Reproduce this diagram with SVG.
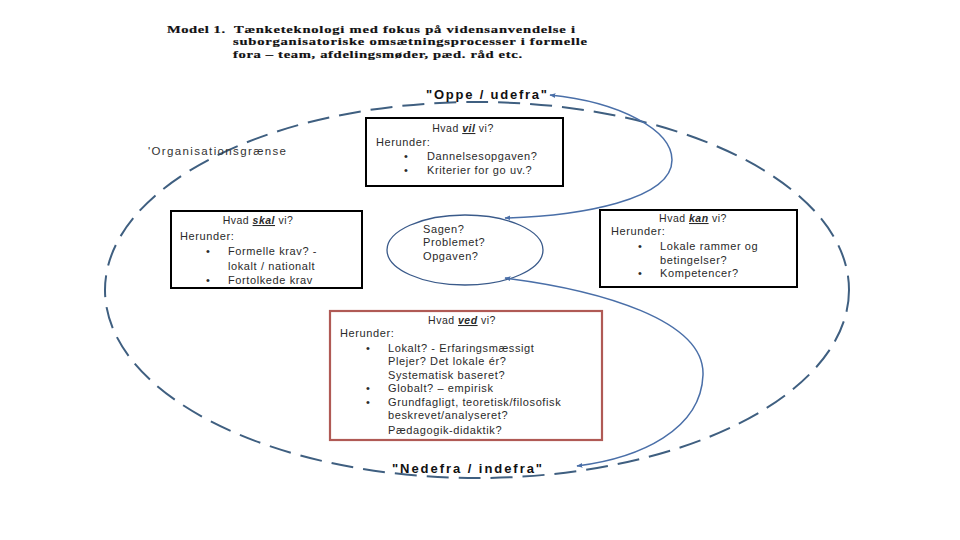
<svg xmlns="http://www.w3.org/2000/svg" width="960" height="540" viewBox="0 0 960 540">
<defs>
<style>
.title{font-family:"Liberation Serif","Times New Roman",serif;font-weight:bold;font-size:10.8px;fill:#111;stroke:#111;stroke-width:0.2px}
.t{font-family:"Liberation Sans",Arial,sans-serif;font-size:11px;fill:#2a2a2a;letter-spacing:0.6px}
.h{font-family:"Liberation Sans",Arial,sans-serif;font-size:10.5px;fill:#2a2a2a;letter-spacing:0.5px}
.em{font-style:italic;font-weight:bold;text-decoration:underline}
.lab{font-family:"Liberation Sans",Arial,sans-serif;font-size:13px;font-weight:bold;fill:#111;letter-spacing:1px}
.org{font-family:"Liberation Sans",Arial,sans-serif;font-size:11.5px;fill:#333}
.box{fill:#fff;stroke:#000;stroke-width:2}
.boxr{fill:#fff;stroke:#b05a55;stroke-width:2.2}
.conn{fill:none;stroke:#4a6fa8;stroke-width:1.5}
</style>
<marker id="ah" viewBox="0 0 10 10" refX="9" refY="5" markerWidth="6" markerHeight="6" markerUnits="userSpaceOnUse" orient="auto-start-reverse">
<path d="M0,1 L10,5 L0,9 z" fill="#4a6fa8"/>
</marker>
</defs>
<rect width="960" height="540" fill="#fff"/>

<g id="title" transform="scale(1.35,1)">
<text class="title" x="123.7" y="33" textLength="43" lengthAdjust="spacing">Model 1.</text>
<text class="title" x="173.3" y="33" textLength="252.6" lengthAdjust="spacing">Tænketeknologi med fokus på vidensanvendelse i</text>
<text class="title" x="172.6" y="45.5" textLength="262.2" lengthAdjust="spacing">suborganisatoriske omsætningsprocesser i formelle</text>
<text class="title" x="172.6" y="58" textLength="214.1" lengthAdjust="spacing">fora – team, afdelingsmøder, pæd. råd etc.</text>
</g>

<g id="organisationsgraense">
<ellipse cx="477" cy="290" rx="372" ry="188" fill="none" stroke="#3f5f80" stroke-width="2" stroke-dasharray="22 10"/>
<text class="org" x="148" y="155" textLength="138" lengthAdjust="spacing">'Organisationsgrænse</text>
</g>

<g id="label-oppe">
<text class="lab" x="426" y="99" textLength="122" lengthAdjust="spacing">"Oppe / udefra"</text>
</g>
<g id="label-nedefra">
<text class="lab" x="392" y="473" textLength="151" lengthAdjust="spacing">"Nedefra / indefra"</text>
</g>

<g id="node-vil">
<rect class="box" x="366" y="118" width="197" height="68"/>
<text class="h" x="463" y="132" text-anchor="middle">Hvad <tspan class="em">vil</tspan> vi?</text>
<text class="t" x="376" y="146">Herunder:</text>
<text class="t" x="404" y="160">•</text>
<text class="t" x="427" y="160">Dannelsesopgaven?</text>
<text class="t" x="404" y="174">•</text>
<text class="t" x="427" y="174">Kriterier for go uv.?</text>
</g>

<g id="node-skal">
<rect class="box" x="171" y="211" width="191" height="77"/>
<text class="h" x="258" y="224" text-anchor="middle">Hvad <tspan class="em">skal</tspan> vi?</text>
<text class="t" x="180" y="240">Herunder:</text>
<text class="t" x="206" y="255">•</text>
<text class="t" x="228" y="255">Formelle krav? -</text>
<text class="t" x="228" y="270">lokalt / nationalt</text>
<text class="t" x="206" y="284">•</text>
<text class="t" x="228" y="284">Fortolkede krav</text>
</g>

<g id="node-kan">
<rect class="box" x="600" y="210" width="197" height="77"/>
<text class="h" x="693" y="222" text-anchor="middle">Hvad <tspan class="em">kan</tspan> vi?</text>
<text class="t" x="611" y="235">Herunder:</text>
<text class="t" x="638" y="250">•</text>
<text class="t" x="660" y="250">Lokale rammer og</text>
<text class="t" x="660" y="264">betingelser?</text>
<text class="t" x="638" y="277">•</text>
<text class="t" x="660" y="277">Kompetencer?</text>
</g>

<g id="node-sagen">
<ellipse cx="465" cy="250" rx="78" ry="35" fill="none" stroke="#3a5a8a" stroke-width="1.3"/>
<text class="t" x="423" y="233">Sagen?</text>
<text class="t" x="423" y="246">Problemet?</text>
<text class="t" x="423" y="260">Opgaven?</text>
</g>

<g id="node-ved">
<rect class="boxr" x="330" y="311" width="272" height="129"/>
<text class="h" x="462" y="324" text-anchor="middle">Hvad  <tspan class="em">ved</tspan> vi?</text>
<text class="t" x="340" y="337">Herunder:</text>
<text class="t" x="366" y="352">•</text>
<text class="t" x="388" y="352">Lokalt?  - Erfaringsmæssigt</text>
<text class="t" x="388" y="365">Plejer? Det lokale ér?</text>
<text class="t" x="388" y="379">Systematisk baseret?</text>
<text class="t" x="366" y="392">•</text>
<text class="t" x="388" y="392">Globalt? – empirisk</text>
<text class="t" x="366" y="406">•</text>
<text class="t" x="388" y="406">Grundfagligt, teoretisk/filosofisk</text>
<text class="t" x="388" y="419">beskrevet/analyseret?</text>
<text class="t" x="388" y="434">Pædagogik-didaktik?</text>
</g>

<g id="connectors">
<path class="conn" d="M550,95 C620,102 672,130 672,160 C672,200 580,216 505,218" marker-start="url(#ah)" marker-end="url(#ah)"/>
<path class="conn" d="M505,278 C600,290 705,320 703,375 C701,430 640,458 577,466" marker-start="url(#ah)" marker-end="url(#ah)"/>
</g>
</svg>
